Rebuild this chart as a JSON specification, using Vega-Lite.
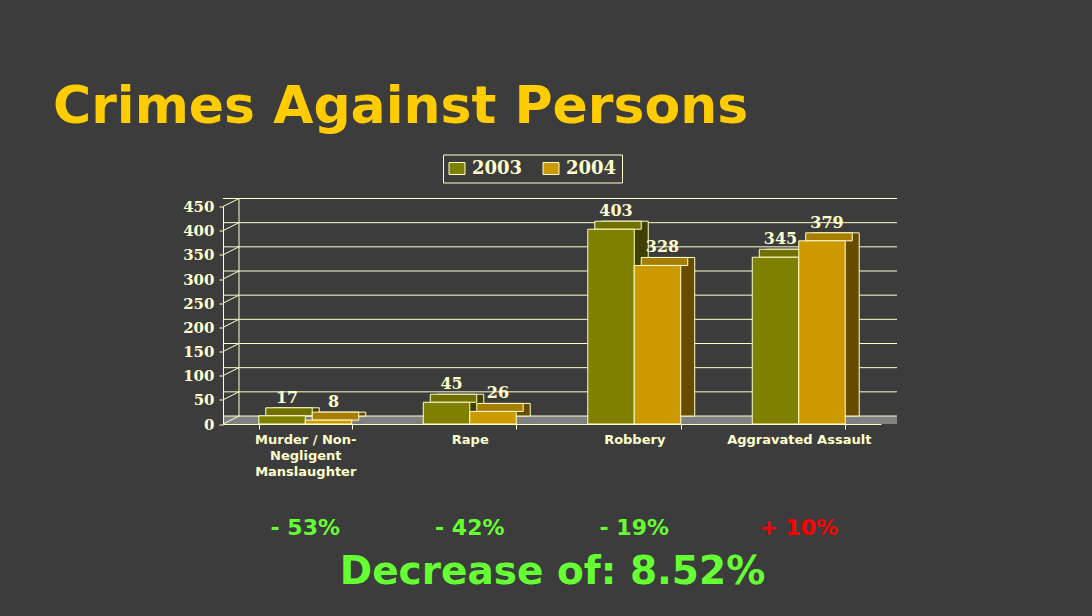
{
  "$schema": "https://vega.github.io/schema/vega-lite/v6.json",
  "width": 658,
  "height": 217.5,
  "autosize": {"type": "none"},
  "padding": {"left": 223, "top": 206.5, "right": 211, "bottom": 192},
  "background": "#3c3c3c",
  "title": {
    "text": "Crimes Against Persons",
    "anchor": "start",
    "frame": "group",
    "font": "DejaVu Sans",
    "fontSize": 52,
    "fontWeight": "bold",
    "color": "#FFCC00",
    "dx": -170,
    "offset": 20
  },
  "datasets": {
    "crimes": [
      {"category": "Murder/Non-Negligent Manslaughter", "year": "2003", "value": 17},
      {"category": "Murder/Non-Negligent Manslaughter", "year": "2004", "value": 8},
      {"category": "Rape", "year": "2003", "value": 45},
      {"category": "Rape", "year": "2004", "value": 26},
      {"category": "Robbery", "year": "2003", "value": 403},
      {"category": "Robbery", "year": "2004", "value": 328},
      {"category": "Aggravated Assault", "year": "2003", "value": 345},
      {"category": "Aggravated Assault", "year": "2004", "value": 379}
    ],
    "changes": [
      {"category": "Murder/Non-Negligent Manslaughter", "change": -53, "label": "- 53%"},
      {"category": "Rape", "change": -42, "label": "- 42%"},
      {"category": "Robbery", "change": -19, "label": "- 19%"},
      {"category": "Aggravated Assault", "change": 10, "label": "+ 10%"}
    ],
    "ticks": [
      {"value": 0}, {"value": 50}, {"value": 100}, {"value": 150}, {"value": 200},
      {"value": 250}, {"value": 300}, {"value": 350}, {"value": 400}, {"value": 450}
    ],
    "floor": [{"value": 0, "top": 450}]
  },
  "layer": [
    {
      "encoding": {
        "y": {
          "field": "value",
          "type": "quantitative",
          "scale": {"domain": [0, 450], "nice": false},
          "axis": {
            "title": null,
            "values": [0, 50, 100, 150, 200, 250, 300, 350, 400, 450],
            "labelOverlap": false,
            "labelFont": "DejaVu Serif",
            "labelFontWeight": "bold",
            "labelFontSize": 15,
            "labelColor": "#FFFFCC",
            "tickColor": "#FFFFCC",
            "tickSize": 4,
            "domainColor": "#FFFFCC",
            "labelPadding": 5,
            "zindex": 1
          }
        }
      },
      "layer": [
        {
          "data": {"name": "floor"},
          "mark": {"type": "rect", "fill": "#808080", "yOffset": -8, "xOffset": 16},
          "encoding": {
            "y2": {"field": "value"}
          }
        },
        {
          "data": {"name": "ticks"},
          "mark": {"type": "rule", "color": "#FFFFCC", "strokeWidth": 1, "xOffset": 16, "x2Offset": 16, "yOffset": -8},
          "encoding": {}
        },
        {
          "data": {"name": "ticks"},
          "mark": {"type": "rule", "color": "#FFFFCC", "strokeWidth": 1, "y2Offset": -8},
          "encoding": {
            "x": {"value": 0},
            "x2": {"value": 16},
            "y2": {"field": "value"}
          }
        },
        {
          "data": {"name": "floor"},
          "mark": {"type": "rule", "color": "#FFFFCC", "strokeWidth": 1, "xOffset": 16, "yOffset": -8, "y2Offset": -8},
          "encoding": {
            "x": {"value": 0},
            "y2": {"field": "top"}
          }
        },
        {
          "resolve": {"scale": {"xOffset": "independent"}},
          "encoding": {
            "x": {
              "field": "category",
              "type": "nominal",
              "sort": null,
              "scale": {
                "domain": ["Murder/Non-Negligent Manslaughter", "Rape", "Robbery", "Aggravated Assault"],
                "paddingInner": 0.435,
                "paddingOuter": 0.2175
              },
              "axis": {
                "title": "Decrease of: 8.52%",
                "titleFont": "DejaVu Sans",
                "titleFontWeight": "bold",
                "titleFontSize": 39,
                "titleColor": "#66FF33",
                "titlePadding": 74,
                "labelExpr": "datum.value == 'Murder/Non-Negligent Manslaughter' ? ['Murder / Non-', 'Negligent', 'Manslaughter'] : datum.label",
                "labelAngle": 0,
                "labelFont": "DejaVu Sans",
                "labelFontWeight": "bold",
                "labelFontSize": 13,
                "labelColor": "#FFFFCC",
                "labelLineHeight": 16,
                "labelPadding": 4,
                "labelBaseline": "top",
                "tickBand": "extent",
                "tickSize": 5,
                "tickColor": "#FFFFCC",
                "domainColor": "#FFFFCC",
                "zindex": 1
              }
            }
          },
          "layer": [
            {
              "data": {"name": "crimes"},
              "mark": {"type": "bar", "stroke": "#FFFFCC", "strokeWidth": 1, "yOffset": -8, "y2Offset": -8},
              "encoding": {
                "xOffset": {"field": "year", "type": "nominal", "scale": {"domain": ["2003", "2004"], "range": [14, 106.94], "paddingInner": 0, "paddingOuter": 0}},
                "fill": {"condition": {"test": "datum.year == '2003'", "value": "#404000"}, "value": "#664C00"}
              }
            },
            {
              "data": {"name": "crimes"},
              "mark": {"type": "bar", "stroke": "#FFFFCC", "strokeWidth": 1, "yOffset": -8},
              "encoding": {
                "xOffset": {"field": "year", "type": "nominal", "scale": {"domain": ["2003", "2004"], "range": [7, 99.94], "paddingInner": 0, "paddingOuter": 0}},
                "y2": {"field": "value"},
                "fill": {"condition": {"test": "datum.year == '2003'", "value": "#707000"}, "value": "#A87E00"}
              }
            },
            {
              "data": {"name": "crimes"},
              "mark": {"type": "bar", "stroke": "#FFFFCC", "strokeWidth": 1},
              "encoding": {
                "xOffset": {"field": "year", "type": "nominal", "scale": {"domain": ["2003", "2004"], "paddingInner": 0, "paddingOuter": 0}},
                "color": {
                  "field": "year",
                  "type": "nominal",
                  "scale": {"domain": ["2003", "2004"], "range": ["#808000", "#CC9900"]},
                  "legend": {
                    "orient": "none",
                    "legendX": 220,
                    "legendY": -52,
                    "direction": "horizontal",
                    "title": null,
                    "strokeColor": "#FFFFCC",
                    "padding": 5,
                    "symbolType": "M-1,-0.75H1V0.75H-1Z",
                    "symbolSize": 256,
                    "symbolStrokeColor": "#FFFFCC",
                    "symbolStrokeWidth": 1,
                    "symbolOpacity": 1,
                    "labelFont": "DejaVu Serif",
                    "labelFontWeight": "bold",
                    "labelFontSize": 18,
                    "labelColor": "#FFFFCC",
                    "labelOffset": 6,
                    "columnPadding": 18
                  }
                }
              }
            },
            {
              "data": {"name": "crimes"},
              "mark": {"type": "text", "font": "DejaVu Serif", "fontWeight": "bold", "fontSize": 16, "fill": "#FFFFCC", "baseline": "alphabetic", "dx": 5, "dy": -13},
              "encoding": {
                "xOffset": {"field": "year", "type": "nominal", "scale": {"type": "point", "domain": ["2003", "2004"], "padding": 0.5}},
                "text": {"field": "value", "type": "quantitative"}
              }
            }
          ]
        }
      ]
    },
    {
      "data": {"name": "changes"},
      "mark": {"type": "text", "font": "DejaVu Sans", "fontWeight": "bold", "fontSize": 22, "baseline": "alphabetic", "dy": 111},
      "encoding": {
        "x": {"field": "category", "type": "nominal", "sort": null},
        "y": {
          "datum": 0,
          "type": "quantitative",
          "scale": {"domain": [0, 450], "nice": false},
          "axis": {
            "title": null,
            "values": [0, 50, 100, 150, 200, 250, 300, 350, 400, 450],
            "labelOverlap": false,
            "labelFont": "DejaVu Serif",
            "labelFontWeight": "bold",
            "labelFontSize": 15,
            "labelColor": "#FFFFCC",
            "tickColor": "#FFFFCC",
            "tickSize": 4,
            "domainColor": "#FFFFCC",
            "labelPadding": 5,
            "zindex": 1
          }
        },
        "text": {"field": "label"},
        "color": {"condition": {"test": "datum.change > 0", "value": "#FF0000"}, "value": "#66FF33"}
      }
    }
  ],
  "config": {
    "view": {"stroke": null},
    "axis": {"grid": false, "domainWidth": 1, "tickWidth": 1}
  }
}
